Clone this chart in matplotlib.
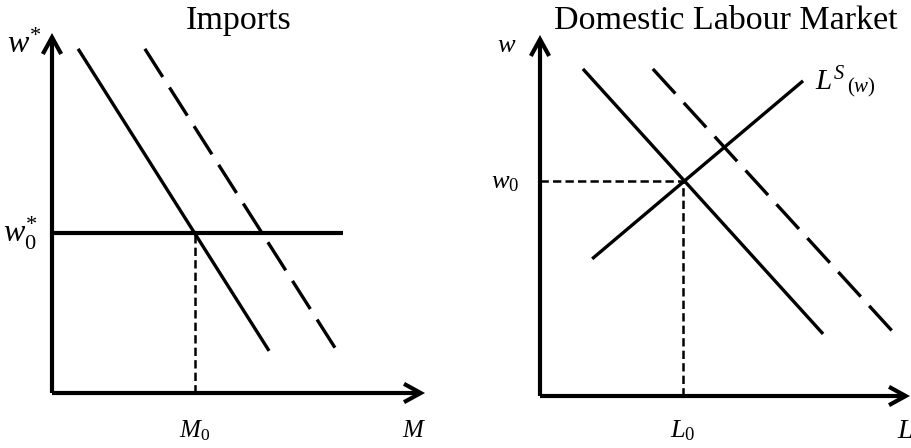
import matplotlib
matplotlib.use("Agg")
import matplotlib.pyplot as plt

plt.rcParams['font.family'] = ['Liberation Serif', 'DejaVu Serif']
plt.rcParams['mathtext.fontset'] = 'custom'
plt.rcParams['mathtext.rm'] = 'Liberation Serif'
plt.rcParams['mathtext.it'] = 'Liberation Serif:italic'
plt.rcParams['mathtext.bf'] = 'Liberation Serif:bold'
plt.rcParams['lines.scale_dashes'] = False

# ---- Imports panel data (schematic units 0..10) ----
imp_demand_x = [0.70, 5.82]
imp_demand_y = [9.56, 1.17]
imp_demand2_x = [2.49, 7.64]
imp_demand2_y = [9.56, 1.17]
imp_w0 = 4.44
imp_w0_xmax = 7.80
imp_M0 = 3.83

# ---- Domestic labour market data ----
lab_demand_x = [1.16, 7.65]
lab_demand_y = [9.06, 1.72]
lab_demand2_x = [3.05, 9.59]
lab_demand2_y = [9.06, 1.72]
lab_supply_x = [1.41, 7.11]
lab_supply_y = [3.80, 8.73]
lab_w0 = 5.96
lab_L0 = 3.87

W, H = 912, 448
fig = plt.figure(figsize=(W / 100, H / 100), dpi=100)

ax1 = fig.add_axes([52 / W, 55 / H, 373 / W, 360 / H])
ax2 = fig.add_axes([540 / W, 52 / H, 370 / W, 361 / H])

AX_LW = 3.0
LINE_LW = 2.4
arrow_props = dict(arrowstyle='->,head_length=0.6,head_width=0.33', lw=AX_LW,
                   color='black', shrinkA=0, shrinkB=0, mutation_scale=20,
                   capstyle='butt', joinstyle='miter')

for ax in (ax1, ax2):
    ax.set_xlim(0, 10)
    ax.set_ylim(0, 10)
    ax.axis('off')
    ax.annotate('', xy=(10, 0), xytext=(0, 0), arrowprops=arrow_props,
                annotation_clip=False)
    ax.annotate('', xy=(0, 10), xytext=(0, 0), arrowprops=arrow_props,
                annotation_clip=False)

dash_long = (0, (24, 9))
dash_short = (0, (6, 3))

# Imports panel
ax1.plot(imp_demand_x, imp_demand_y, color='black', lw=LINE_LW, solid_capstyle='butt')
ax1.plot(imp_demand2_x, imp_demand2_y, color='black', lw=LINE_LW, linestyle=dash_long,
         dash_capstyle='butt')
ax1.plot([0, imp_w0_xmax], [imp_w0, imp_w0], color='black', lw=AX_LW, solid_capstyle='butt')
ax1.plot([imp_M0, imp_M0], [0, imp_w0], color='black', lw=1.8, linestyle=dash_short,
         dash_capstyle='butt')

ax1.text(5.0, 10.11, 'Imports', fontsize=24.5, ha='center', va='baseline',
         clip_on=False)
ax1.text(-0.75, 9.45, r'$w^{*}$', fontsize=23, ha='center', va='baseline', clip_on=False)
ax1.text(-0.85, 4.17, r'$w_{0}^{*}$', fontsize=23, ha='center', va='baseline', clip_on=False)
ax1.text(imp_M0, -1.22, r'$M_{0}$', fontsize=18, ha='center', va='baseline', clip_on=False)
ax1.text(9.70, -1.22, r'$M$', fontsize=18, ha='center', va='baseline', clip_on=False)

# Domestic labour market panel
ax2.plot(lab_demand_x, lab_demand_y, color='black', lw=LINE_LW, solid_capstyle='butt')
ax2.plot(lab_demand2_x, lab_demand2_y, color='black', lw=LINE_LW, linestyle=dash_long,
         dash_capstyle='butt')
ax2.plot(lab_supply_x, lab_supply_y, color='black', lw=LINE_LW, solid_capstyle='butt')
ax2.plot([0, lab_L0], [lab_w0, lab_w0], color='black', lw=1.8, linestyle=dash_short,
         dash_capstyle='butt')
ax2.plot([lab_L0, lab_L0], [0, lab_w0], color='black', lw=1.8, linestyle=dash_short,
         dash_capstyle='butt')

ax2.text(5.03, 10.17, 'Domestic Labour Market', fontsize=24.5, ha='center', va='baseline',
         clip_on=False)
ax2.text(-0.89, 9.53, r'$w$', fontsize=19, ha='center', va='baseline', clip_on=False)
ax2.text(-0.95, 5.76, r'$w_{0}$', fontsize=19, ha='center', va='baseline', clip_on=False)
ax2.text(lab_L0, -1.16, r'$L_{0}$', fontsize=19, ha='center', va='baseline', clip_on=False)
ax2.text(9.86, -1.16, r'$L$', fontsize=20, ha='center', va='baseline', clip_on=False)
ax2.text(7.43, 8.48, r'$L^{S}$', fontsize=21, ha='left', va='baseline', clip_on=False)
ax2.text(8.30, 8.40, r'$(w)$', fontsize=15, ha='left', va='baseline', clip_on=False)

fig.savefig('out.png', dpi=100)
